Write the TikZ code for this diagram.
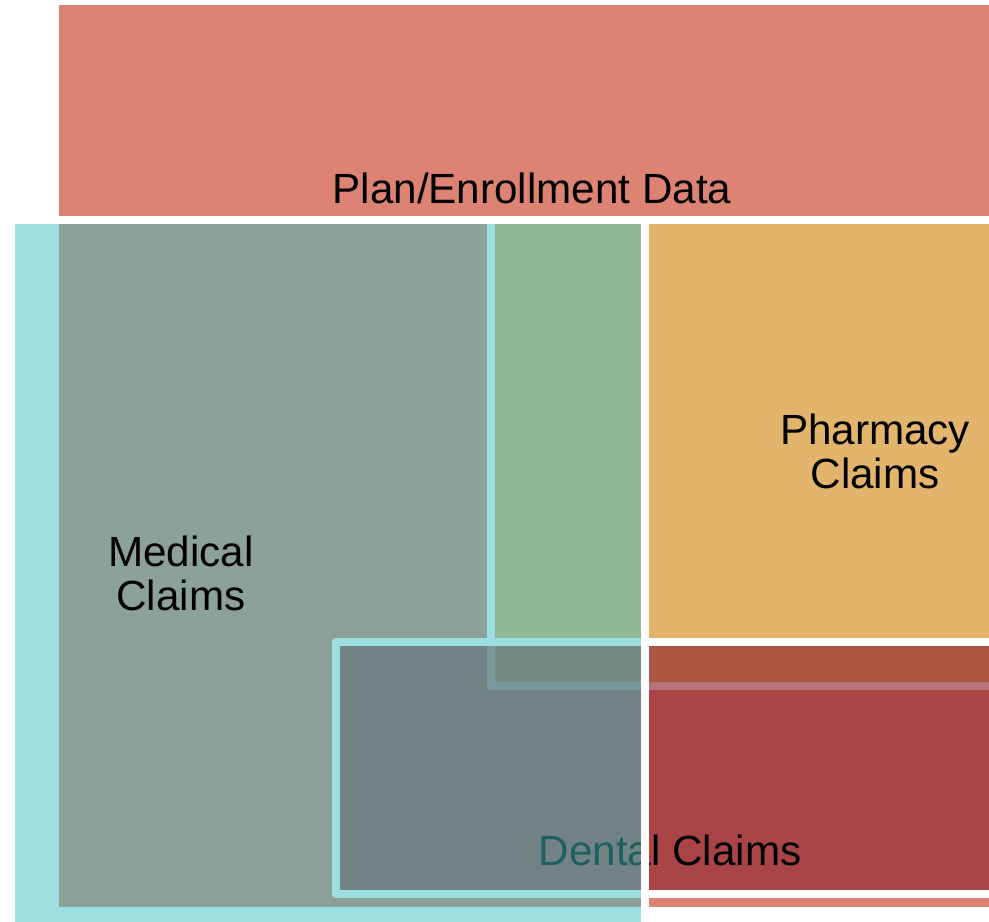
\documentclass[tikz,border=0pt]{standalone}
\usepackage{fontspec}
\setmainfont{Liberation Sans}
\usepackage{xcolor}
\usepackage{tikz}
\definecolor{planred}{RGB}{220,131,116}
\definecolor{pharmorange}{RGB}{226,180,108}
\definecolor{dentalred}{RGB}{141,34,46}
\definecolor{medteal}{RGB}{61,191,193}

\begin{document}
\begin{tikzpicture}[x=0.01cm,y=-0.01cm,
  setlabel/.style={font=\fontsize{12}{12.47}\selectfont,inner sep=0pt,align=center},
  setedge/.style={draw=white,line width=2.27pt,line join=round},
  gapline/.style={white,line width=2.27pt}]
  \useasboundingbox (0,0) rectangle (989,921);
  \clip (0,0) rectangle (989,921);
  \fill[planred] (59,5) rectangle (1000,907);
  \filldraw[fill=pharmorange,setedge] (491,220) rectangle (1010,686);
  \filldraw[fill=dentalred,fill opacity=0.63,setedge] (336,642) rectangle (1010,894);
  \node[setlabel,anchor=base] (dental) at (670,865) {Dental Claims};
  \draw[gapline] (59,220) -- (1000,220);
  \draw[gapline] (645,220) -- (645,930);
  \fill[medteal,fill opacity=0.5] (15,224) rectangle (641,930);
  \node[setlabel] (medical) at (181,573) {Medical\\Claims};
  \node[setlabel] (pharmacy) at (875,451) {Pharmacy\\Claims};
  \node[setlabel,anchor=base] (plan) at (532,203) {Plan/Enrollment Data};
\end{tikzpicture}
\end{document}
